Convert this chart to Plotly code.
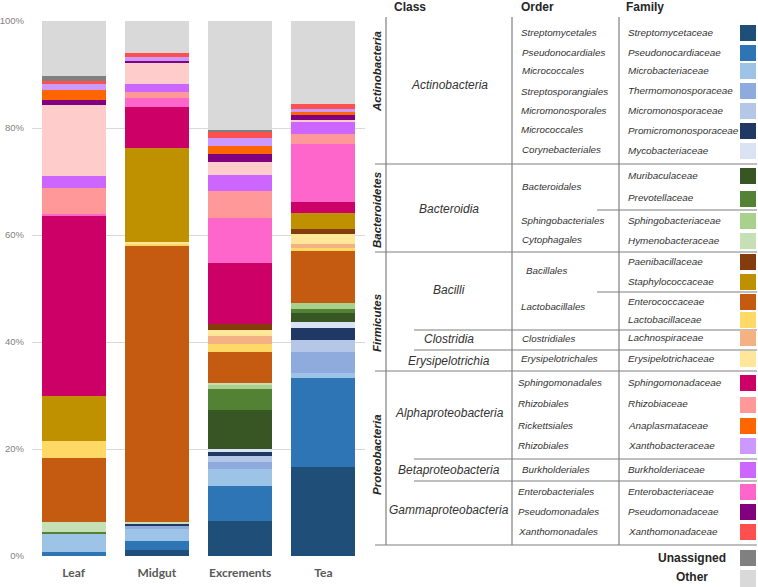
import plotly.graph_objects as go

# ---------------- data ----------------
categories = ["Leaf", "Midgut", "Excrements", "Tea"]
y_tick_values = [0, 20, 40, 60, 80, 100]
y_tick_labels = ["0%", "20%", "40%", "60%", "80%", "100%"]

streptomycetaceae = [0.0, 1.1, 6.5, 16.7]
pseudonocardiaceae = [0.8, 1.7, 6.6, 16.6]
microbacteriaceae = [3.4, 2.2, 3.1, 1.0]
thermomonosporaceae = [0.0, 0.7, 1.4, 3.9]
micromonosporaceae = [0.0, 0.0, 1.1, 2.2]
promicromonosporaceae = [0.0, 0.2, 0.8, 2.2]
mycobacteriaceae = [0.0, 0.0, 0.5, 1.1]
muribaculaceae = [0.0, 0.0, 7.2, 1.8]
prevotellaceae = [0.2, 0.0, 4.1, 0.7]
sphingobacteriaceae = [0.0, 0.0, 0.6, 1.0]
hymenobacteraceae = [1.9, 0.5, 0.4, 0.0]
enterococcaceae = [12.0, 51.5, 5.8, 9.9]
lactobacillaceae = [3.2, 0.4, 1.5, 0.4]
lachnospiraceae = [0.0, 0.0, 1.5, 0.9]
erysipelotrichaceae = [0.0, 0.4, 1.1, 1.8]
paenibacillaceae = [0.0, 0.0, 1.1, 1.0]
staphylococcaceae = [8.5, 17.6, 0.0, 3.0]
sphingomonadaceae = [33.5, 7.6, 11.4, 1.9]
enterobacteriaceae = [0.5, 1.8, 8.5, 10.9]
rhizobiaceae = [4.8, 1.1, 5.0, 1.9]
burkholderiaceae = [2.2, 1.4, 3.1, 2.3]
unlisted_pink = [13.3, 4.1, 2.3, 0.3]
pseudomonadaceae = [0.9, 0.3, 1.5, 1.1]
anaplasmataceae = [1.9, 0.0, 1.6, 0.3]
xanthobacteraceae = [1.3, 0.7, 1.4, 0.6]
xanthomonadaceae = [0.3, 0.8, 1.2, 0.9]
unassigned = [1.1, 0.0, 0.3, 0.0]
other = [10.2, 5.9, 20.4, 15.6]

# legend table text
phyla = ["Actinobacteria", "Bacteroidetes", "Firmicutes", "Proteobacteria"]
classes = ["Actinobacteria", "Bacteroidia", "Bacilli", "Clostridia", "Erysipelotrichia",
           "Alphaproteobacteria", "Betaproteobacteria", "Gammaproteobacteria"]
orders = ["Streptomycetales", "Pseudonocardiales", "Micrococcales", "Streptosporangiales",
          "Micromonosporales", "Micrococcales", "Corynebacteriales", "Bacteroidales",
          "Sphingobacteriales", "Cytophagales", "Bacillales", "Lactobacillales",
          "Clostridiales", "Erysipelotrichales", "Sphingomonadales", "Rhizobiales",
          "Rickettsiales", "Rhizobiales", "Burkholderiales", "Enterobacteriales",
          "Pseudomonadales", "Xanthomonadales"]
families = ["Streptomycetaceae", "Pseudonocardiaceae", "Microbacteriaceae",
            "Thermomonosporaceae", "Micromonosporaceae", "Promicromonosporaceae",
            "Mycobacteriaceae", "Muribaculaceae", "Prevotellaceae", "Sphingobacteriaceae",
            "Hymenobacteraceae", "Paenibacillaceae", "Staphylococcaceae", "Enterococcaceae",
            "Lactobacillaceae", "Lachnospiraceae", "Erysipelotrichaceae", "Sphingomonadaceae",
            "Rhizobiaceae", "Anaplasmataceae", "Xanthobacteraceae", "Burkholderiaceae",
            "Enterobacteriaceae", "Pseudomonadaceae", "Xanthomonadaceae"]

# ---------------- styles ----------------
colors = {
    "Streptomycetaceae": "#1F4E79", "Pseudonocardiaceae": "#2E75B6",
    "Microbacteriaceae": "#9DC3E6", "Thermomonosporaceae": "#8FAADC",
    "Micromonosporaceae": "#B4C7E7", "Promicromonosporaceae": "#203864",
    "Mycobacteriaceae": "#DAE3F3", "Muribaculaceae": "#375623",
    "Prevotellaceae": "#548235", "Sphingobacteriaceae": "#A9D18E",
    "Hymenobacteraceae": "#C5E0B4", "Paenibacillaceae": "#843C0C",
    "Staphylococcaceae": "#BF9000", "Enterococcaceae": "#C55A11",
    "Lactobacillaceae": "#FFD966", "Lachnospiraceae": "#F4B183",
    "Erysipelotrichaceae": "#FFE699", "Sphingomonadaceae": "#CC0066",
    "Rhizobiaceae": "#FF9999", "Anaplasmataceae": "#FF6600",
    "Xanthobacteraceae": "#CC99FF", "Burkholderiaceae": "#CC66FF",
    "Enterobacteriaceae": "#FF66CC", "Pseudomonadaceae": "#800080",
    "Xanthomonadaceae": "#FF5050", "Unassigned": "#808080", "Other": "#D9D9D9",
    "Unlisted": "#FFCCCC",
}

stack = [
    ("Streptomycetaceae", streptomycetaceae), ("Pseudonocardiaceae", pseudonocardiaceae),
    ("Microbacteriaceae", microbacteriaceae), ("Thermomonosporaceae", thermomonosporaceae),
    ("Micromonosporaceae", micromonosporaceae), ("Promicromonosporaceae", promicromonosporaceae),
    ("Mycobacteriaceae", mycobacteriaceae), ("Muribaculaceae", muribaculaceae),
    ("Prevotellaceae", prevotellaceae), ("Sphingobacteriaceae", sphingobacteriaceae),
    ("Hymenobacteraceae", hymenobacteraceae), ("Enterococcaceae", enterococcaceae),
    ("Lactobacillaceae", lactobacillaceae), ("Lachnospiraceae", lachnospiraceae),
    ("Erysipelotrichaceae", erysipelotrichaceae), ("Paenibacillaceae", paenibacillaceae),
    ("Staphylococcaceae", staphylococcaceae), ("Sphingomonadaceae", sphingomonadaceae),
    ("Enterobacteriaceae", enterobacteriaceae), ("Rhizobiaceae", rhizobiaceae),
    ("Burkholderiaceae", burkholderiaceae), ("Unlisted", unlisted_pink),
    ("Pseudomonadaceae", pseudomonadaceae), ("Anaplasmataceae", anaplasmataceae),
    ("Xanthobacteraceae", xanthobacteraceae), ("Xanthomonadaceae", xanthomonadaceae),
    ("Unassigned", unassigned), ("Other", other),
]

fig = go.Figure()
for name, vals in stack:
    fig.add_trace(go.Bar(x=categories, y=vals, name=name,
                         marker=dict(color=colors[name], line=dict(width=0)),
                         showlegend=False))

# plot area in window pixels
L, R, T, B = 32, 365, 21, 556
W, H = 758, 587


def px(x):
    return (x - L) / (R - L)


def py(y):
    return (B - y) / (B - T)


shapes = []
annotations = []
LINE = dict(color="#7F7F7F", width=1.2)


def hline(x0, x1, y):
    shapes.append(dict(type="line", xref="paper", yref="paper",
                       x0=px(x0), x1=px(x1), y0=py(y), y1=py(y), line=LINE))


def vline(x, y0, y1):
    shapes.append(dict(type="line", xref="paper", yref="paper",
                       x0=px(x), x1=px(x), y0=py(y0), y1=py(y1), line=LINE))


def text(x, y, s, size, anchor="left", color="#333333", angle=0, family="Liberation Sans"):
    annotations.append(dict(x=px(x), y=py(y), xref="paper", yref="paper", text=s,
                            showarrow=False, xanchor=anchor, yanchor="middle",
                            textangle=angle, borderpad=0,
                            font=dict(size=size, color=color, family=family)))


# headers
text(410, 7, "<b>Class</b>", 12, "center", "#262626")
text(537, 7, "<b>Order</b>", 12, "center", "#262626")
text(645, 7, "<b>Family</b>", 12, "center", "#262626")

# table lines
vline(386, 17, 545)
vline(512, 17, 545)
vline(619, 17, 545)
hline(375, 757, 164)
hline(375, 757, 252)
hline(375, 757, 371)
hline(375, 757, 545)
hline(597, 757, 210)
hline(597, 757, 292)
hline(414, 757, 330)
hline(414, 757, 350)
hline(414, 757, 459)
hline(414, 757, 481)

# phylum labels
for s, y in zip(phyla, [72, 210, 323, 455]):
    text(377, y, "<b><i>" + s + "</i></b>", 11.5, "center", "#262626", -90)

# class labels
for s, y in zip(classes, [85, 209, 290, 339, 361, 413, 470, 510]):
    text(449, y, "<i>" + s + "</i>", 12, "center")

# order labels
order_pos = [(520, 32), (521, 52), (521, 70), (520, 91), (520, 110), (520, 129), (521, 149),
             (521, 187), (520, 220), (521, 239), (525, 270), (520, 306), (521, 338),
             (520, 358), (517, 382), (517, 404), (517, 425), (517, 445), (521, 469),
             (517, 491), (517, 511), (517, 531)]
for s, (x, y) in zip(orders, order_pos):
    text(x, y, "<i>" + s + "</i>", 9.8, "left")

# family labels + colour squares
fam_y = [32, 52, 70, 90, 110, 130, 150, 175, 198, 220, 240, 261, 281, 301, 319, 337, 358,
         382, 404, 425, 445, 469, 491, 511, 531]
for s, y in zip(families, fam_y):
    text(627, y, "<i>" + s + "</i>", 9.9, "left")
    shapes.append(dict(type="rect", xref="paper", yref="paper",
                       x0=px(740), x1=px(756), y0=py(y - 7), y1=py(y + 9),
                       fillcolor=colors[s], line=dict(width=0)))

# Unassigned / Other
text(692, 558, "<b>Unassigned</b>", 12, "center", "#262626")
text(692, 577, "<b>Other</b>", 12, "center", "#262626")
shapes.append(dict(type="rect", xref="paper", yref="paper", x0=px(740), x1=px(756),
                   y0=py(550), y1=py(566), fillcolor=colors["Unassigned"], line=dict(width=0)))
shapes.append(dict(type="rect", xref="paper", yref="paper", x0=px(740), x1=px(756),
                   y0=py(570), y1=py(587), fillcolor=colors["Other"], line=dict(width=0)))

fig.update_layout(
    barmode="stack",
    bargap=0.23,
    width=W, height=H, autosize=False,
    margin=dict(l=L, r=W - R, t=T, b=H - B, pad=0, autoexpand=False),
    paper_bgcolor="white", plot_bgcolor="white",
    shapes=shapes, annotations=annotations,
    xaxis=dict(range=[-0.5, 3.5], showgrid=False, zeroline=False, showline=False,
               ticks="", automargin=False, ticklabelstandoff=8,
               tickfont=dict(size=12, color="#595959", family="Lato", weight="bold")),
    yaxis=dict(range=[0, 100], tickvals=y_tick_values, ticktext=y_tick_labels,
               showgrid=True, gridcolor="#D9D9D9", gridwidth=1, zeroline=False,
               showline=False, ticks="", automargin=False, ticklabelstandoff=7,
               tickfont=dict(size=9.5, color="#7F7F7F", family="Liberation Sans")),
)

fig.write_html("out.html", config={"displayModeBar": False},
               post_script="document.body.style.margin='0';document.body.style.overflow='hidden';")
